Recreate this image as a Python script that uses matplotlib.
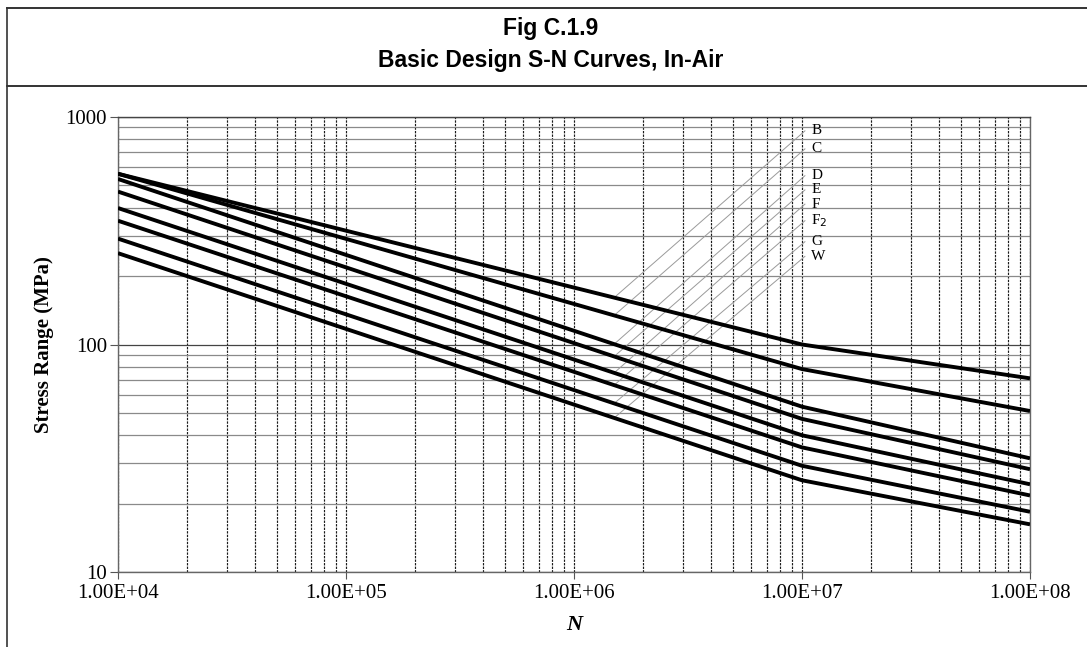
import numpy as np
import matplotlib
matplotlib.use("Agg")
import matplotlib.pyplot as plt
from matplotlib.lines import Line2D
from matplotlib.ticker import FixedLocator, NullFormatter, FuncFormatter

# ---- data ----
classes = ["B", "C", "D", "E", "F", "F2", "G", "W"]
label_texts = ["B", "C", "D", "E", "F", r"F$_2$", "G", "W"]
N_points = [1e4, 1e7, 1e8]
S_B = [563, 100.0, 71.0]
S_C = [563, 78.0, 51.0]
S_D = [534, 53.3, 31.6]
S_E = [470, 47.1, 28.3]
S_F = [398, 39.9, 24.3]
S_F2 = [350, 35.3, 21.7]
S_G = [292, 29.3, 18.4]
S_W = [252, 25.3, 16.2]
curves = [S_B, S_C, S_D, S_E, S_F, S_F2, S_G, S_W]

# leader lines: start on curve at N_leader_start, end near labels
N_leader_start = 1.5e6
N_leader_end = 1.03e7
N_label = 1.1e7
S_label = [869, 724, 552, 478, 414, 350, 283, 244]

x_ticks = [1e4, 1e5, 1e6, 1e7, 1e8]
y_ticks = [10, 100, 1000]

# ---- figure ----
W, H = 1087, 647
fig = plt.figure(figsize=(W / 100, H / 100), dpi=100)

def fx(px):
    return px / W

def fy(py):
    return 1 - py / H

# frame lines
fig.add_artist(Line2D([fx(7), 1.0], [fy(7.5), fy(7.5)], color="#333333", lw=1.4))
fig.add_artist(Line2D([fx(7), 1.0], [fy(86), fy(86)], color="#111111", lw=1.2))
fig.add_artist(Line2D([fx(7), fx(7)], [0, fy(7.5)], color="#333333", lw=1.2))

fig.text(fx(551), fy(29), "Fig C.1.9", ha="center", va="center",
         fontsize=16.5, fontweight="bold", family="Liberation Sans")
fig.text(fx(551), fy(60.5), "Basic Design S-N Curves, In-Air", ha="center", va="center",
         fontsize=16.5, fontweight="bold", family="Liberation Sans")

ax = fig.add_axes([fx(118), fy(572), fx(1030) - fx(118), fy(117) - fy(572)])
ax.set_xscale("log")
ax.set_yscale("log")
ax.set_xlim(1e4, 1e8)
ax.set_ylim(10, 1000)

# grid
ax.xaxis.set_major_locator(FixedLocator(x_ticks))
ax.yaxis.set_major_locator(FixedLocator(y_ticks))
ax.xaxis.set_minor_locator(matplotlib.ticker.LogLocator(base=10, subs=np.arange(2, 10)))
ax.yaxis.set_minor_locator(matplotlib.ticker.LogLocator(base=10, subs=np.arange(2, 10)))
ax.xaxis.set_minor_formatter(NullFormatter())
ax.yaxis.set_minor_formatter(NullFormatter())
ax.grid(True, axis="x", which="both", color="#1a1a1a", lw=0.85, ls=(0, (2, 1)))
ax.grid(True, axis="y", which="minor", color="#8a8a8a", lw=0.9)
ax.grid(True, axis="y", which="major", color="#444444", lw=0.9)
ax.set_axisbelow(True)

ax.xaxis.set_major_formatter(FuncFormatter(lambda v, p: "{:.2E}".format(v)))
ax.yaxis.set_major_formatter(FuncFormatter(lambda v, p: "%d" % v))
ax.tick_params(axis="both", which="minor", length=0)
ax.tick_params(axis="y", which="major", length=6, color="#555555", direction="out", pad=2)
ax.tick_params(axis="x", which="major", length=5, color="#555555", direction="out", pad=4)
for lab in ax.get_xticklabels() + ax.get_yticklabels():
    lab.set_family("Liberation Serif")
    lab.set_fontsize(15)

for sp in ax.spines.values():
    sp.set_color("#666666")
    sp.set_linewidth(1.0)
ax.spines["top"].set_color("#444444")

# curves
for S in curves:
    ax.plot(N_points, S, color="black", lw=2.8, solid_capstyle="butt", zorder=4)

# leader lines and labels
logN = np.log10(N_points)
for S, Sl, txt in zip(curves, S_label, label_texts):
    s0 = 10 ** np.interp(np.log10(N_leader_start), logN, np.log10(S))
    ax.plot([N_leader_start, N_leader_end], [s0, Sl], color="#9a9a9a", lw=0.7, zorder=3)
    ax.text(N_label, Sl, txt, ha="left", va="center", fontsize=11,
            family="Liberation Serif", zorder=5, clip_on=False)

ax.set_ylabel("Stress Range (MPa)", family="Liberation Serif", fontsize=15,
              fontweight="bold", labelpad=8)
ax.set_xlabel("N", family="Liberation Serif", fontsize=16, fontweight="bold",
              style="italic", labelpad=8)

fig.savefig("out.png", dpi=100)
